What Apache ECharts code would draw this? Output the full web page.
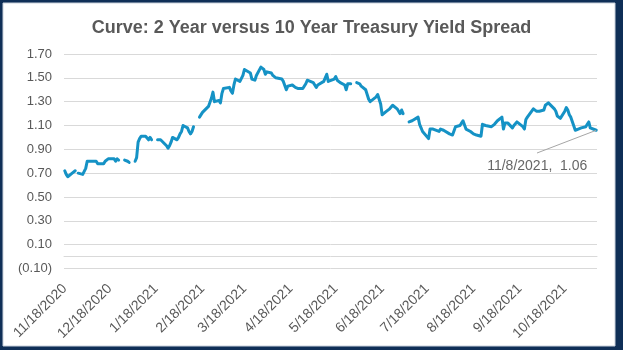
<!DOCTYPE html>
<html>
<head>
<meta charset="utf-8">
<script src="https://cdn.jsdelivr.net/npm/echarts@6/dist/echarts.min.js"></script>
<style>
  html, body { margin: 0; padding: 0; background: #ffffff; }
  #chart { width: 623px; height: 350px; }
</style>
</head>
<body>
<div id="chart"></div>
<script>
// First trading day shown (year, month, day)
const firstDay = [2020, 11, 18];

// 10Y minus 2Y Treasury spread, one value per business day (Mon..Fri rows).
// null = no quote that day, left as a gap in the line.
const spread = [
  0.72, 0.69, 0.67,                 // Nov 18-20
  0.70, 0.71, 0.72, null, 0.70,     // Nov 23-27
  0.69, 0.69, 0.74, 0.80, 0.81,     // Nov 30-Dec 4
  0.80, 0.79, 0.80, 0.78, 0.79,     // Dec 7-11
  0.78, 0.80, 0.81, 0.82, 0.81,     // Dec 14-18
  0.82, 0.80, 0.82, 0.81, null,     // Dec 21-25
  0.81, 0.80, 0.80, 0.79, null,     // Dec 28-Jan 1
  0.80, 0.83, 0.96, 0.99, 1.01,     // Jan 4-8
  1.01, 1.02, 0.98, 1.00, 0.98,     // Jan 11-15
  null, 0.98, 0.97, 0.98, 0.97,     // Jan 18-22
  0.93, 0.91, 0.93, 0.96, 1.00,     // Jan 25-29
  0.98, 1.00, 1.03, 1.05, 1.10,     // Feb 1-5
  1.08, 1.05, 1.03, 1.05, 1.09,     // Feb 8-12
  null, 1.17, 1.18, 1.21, 1.22,     // Feb 15-19
  1.26, 1.27, 1.33, 1.38, 1.30,     // Feb 22-26
  1.31, 1.29, 1.37, 1.41, 1.41,     // Mar 1-5
  1.42, 1.39, 1.37, 1.44, 1.49,     // Mar 8-12
  1.47, 1.47, 1.52, 1.57, 1.58,     // Mar 15-19
  1.54, 1.49, 1.48, 1.48, 1.52,     // Mar 22-26
  1.59, 1.58, 1.57, 1.53, 1.55,     // Mar 29-Apr 2
  1.54, 1.52, 1.51, 1.50, 1.51,     // Apr 5-9
  1.49, 1.47, 1.47, 1.40, 1.43,     // Apr 12-16
  1.44, 1.43, 1.42, 1.42, 1.41,     // Apr 19-23
  1.41, 1.42, 1.45, 1.48, 1.48,     // Apr 26-30
  1.46, 1.44, 1.42, 1.44, 1.45,     // May 3-7
  1.47, 1.46, 1.53, 1.47, 1.48,     // May 10-14
  1.49, 1.51, 1.48, 1.47, 1.46,     // May 17-21
  1.44, 1.40, 1.45, 1.44, 1.45,     // May 24-28
  null, 1.46, 1.46, 1.45, 1.43,     // May 31-Jun 4
  1.40, 1.36, 1.32, 1.30, 1.31,     // Jun 7-11
  1.34, 1.36, 1.35, 1.28, 1.19,     // Jun 14-18
  1.22, 1.22, 1.24, 1.25, 1.27,     // Jun 21-25
  1.24, 1.22, 1.20, 1.23, 1.20,     // Jun 28-Jul 2
  null, 1.13, 1.12, 1.14, 1.15,     // Jul 5-9
  1.17, 1.11, 1.08, 1.05, 1.04,     // Jul 12-16
  0.99, 1.07, 1.08, 1.07, 1.08,     // Jul 19-23
  1.05, 1.07, 1.08, 1.06, 1.05,     // Jul 26-30
  1.03, 1.02, 1.02, 1.02, 1.09,     // Aug 2-6
  1.10, 1.12, 1.14, 1.14, 1.07,     // Aug 9-13
  1.05, 1.04, 1.03, 1.02, 1.02,     // Aug 16-20
  1.01, 1.11, 1.12, 1.10, 1.09,     // Aug 23-27
  1.09, 1.10, 1.11, 1.12, 1.14,     // Aug 30-Sep 3
  1.17, 1.07, 1.12, 1.13, 1.12,     // Sep 6-10
  1.08, 1.10, 1.11, 1.13, 1.14,     // Sep 13-17
  1.09, 1.07, 1.15, 1.17, 1.18,     // Sep 20-24
  1.24, 1.23, 1.22, 1.21, 1.22,     // Sep 27-Oct 1
  1.23, 1.27, 1.28, 1.29, 1.28,     // Oct 4-8
  1.24, 1.22, 1.18, 1.17, 1.16,     // Oct 11-15
  1.22, 1.25, 1.23, 1.19, 1.17,     // Oct 18-22
  1.06, 1.06, 1.07, 1.07, 1.08,     // Oct 25-29
  1.09, 1.11, 1.13, 1.08, 1.07,     // Nov 1-5
  1.06                              // Nov 8
];

// Date-axis labels, one per month
const tickDates = [
  '2020-11-18', '2020-12-18', '2021-01-18', '2021-02-18', '2021-03-18', '2021-04-18',
  '2021-05-18', '2021-06-18', '2021-07-18', '2021-08-18', '2021-09-18', '2021-10-18'
];

// Value-axis range and step
const yMin = -0.10;
const yMax = 1.70;
const yStep = 0.20;

const titleText = 'Curve: 2 Year versus 10 Year Treasury Yield Spread';

function toTime(s) {
  const p = s.split('-').map(Number);
  return new Date(p[0], p[1] - 1, p[2]).getTime();
}

function fmtDate(t) {
  const d = new Date(t);
  return (d.getMonth() + 1) + '/' + d.getDate() + '/' + d.getFullYear();
}

function fmtNum(v) {
  return v < 0 ? '(' + Math.abs(v).toFixed(2) + ')' : v.toFixed(2);
}

// Walk the calendar, skipping weekends, to date each value
const dayStamps = [];
(function () {
  const d = new Date(firstDay[0], firstDay[1] - 1, firstDay[2]);
  while (dayStamps.length < spread.length) {
    const w = d.getDay();
    if (w !== 0 && w !== 6) dayStamps.push(d.getTime());
    d.setDate(d.getDate() + 1);
  }
})();

const lineData = spread.map((v, i) => [dayStamps[i], v]);
const lastIdx = spread.length - 1;
const lastPoint = [dayStamps[lastIdx], spread[lastIdx]];

const halfDay = 12 * 3600 * 1000;
const xMin = dayStamps[0] - halfDay;
const xMax = dayStamps[lastIdx] + halfDay;

const FONT = 'Liberation Sans';
const GREY = '#595959';

const chart = echarts.init(document.getElementById('chart'), null, { renderer: 'canvas' });

chart.setOption({
  animation: false,
  backgroundColor: '#0f2f57',
  graphic: [
    {
      type: 'rect',
      shape: { x: 3, y: 3, width: 612, height: 343 },
      style: { fill: '#ffffff', stroke: '#c9d1dc', lineWidth: 1 },
      z: -10,
      silent: true
    }
  ],
  title: {
    text: titleText,
    left: 'center',
    top: 14,
    textStyle: { fontFamily: FONT, fontSize: 18, fontWeight: 'bold', color: GREY }
  },
  grid: { left: 64, right: 26, top: 54, bottom: 81.5, containLabel: false },
  xAxis: {
    type: 'value',
    min: xMin,
    max: xMax,
    splitLine: { show: false },
    axisTick: { show: false },
    axisLine: { show: true, lineStyle: { color: '#d9d9d9', width: 1 } },
    axisLabel: {
      customValues: tickDates.map(toTime),
      formatter: (v) => fmtDate(v),
      rotate: 45,
      margin: 18,
      fontFamily: FONT,
      fontSize: 14,
      color: GREY,
      showMinLabel: true,
      showMaxLabel: true,
      hideOverlap: false
    }
  },
  yAxis: {
    type: 'value',
    min: yMin,
    max: yMax,
    interval: yStep,
    axisLine: { show: false },
    axisTick: { show: false },
    splitLine: { show: true, lineStyle: { color: '#d9d9d9', width: 1 } },
    axisLabel: {
      formatter: (v) => fmtNum(v),
      margin: 12,
      fontFamily: FONT,
      fontSize: 13,
      color: GREY
    }
  },
  series: [
    {
      type: 'line',
      data: lineData,
      showSymbol: false,
      connectNulls: false,
      lineStyle: { color: '#1592c5', width: 3, join: 'round', cap: 'round' },
      itemStyle: { color: '#1592c5' },
      emphasis: { disabled: true },
      z: 3
    },
    {
      // Call-out for the latest reading, with a thin leader line
      type: 'scatter',
      data: [lastPoint],
      symbolSize: 0,
      silent: true,
      label: {
        show: true,
        position: 'top',
        distance: 5,
        formatter: () => fmtDate(lastPoint[0]) + ',  ' + lastPoint[1].toFixed(2),
        fontFamily: FONT,
        fontSize: 14,
        color: '#404040'
      },
      labelLayout: { dx: -59, dy: 48 },
      markLine: {
        silent: true,
        symbol: ['none', 'none'],
        animation: false,
        label: { show: false },
        lineStyle: { color: '#a6a6a6', width: 1, type: 'solid' },
        emphasis: { disabled: true },
        data: [[{ coord: lastPoint }, { x: 537, y: 153 }]]
      },
      z: 4
    }
  ]
});
</script>
</body>
</html>
